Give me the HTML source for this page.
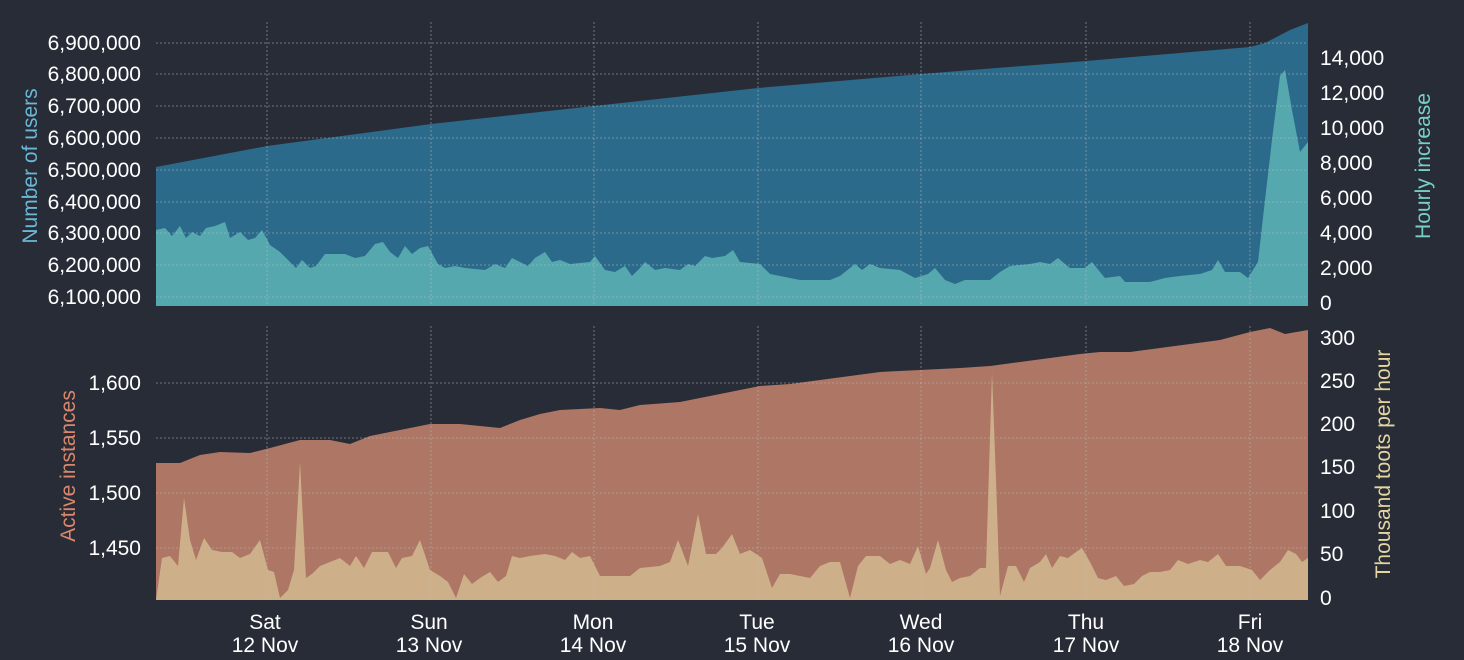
<!DOCTYPE html>
<html><head><meta charset="utf-8"><style>
html,body{margin:0;background:#282c37;overflow:hidden;}
svg{display:block}
svg text{font-family:"Liberation Sans",sans-serif;fill:#fff;font-size:21px;}
</style></head><body>
<svg width="1464" height="660" viewBox="0 0 1464 660" xmlns="http://www.w3.org/2000/svg">
<rect width="1464" height="660" fill="#282c37"/>
<polygon fill="#2b6a8b" points="156,306 156,167 267,146 431,124 594,106 758,88 921,74 1086,61 1250,47 1265,43 1290,30 1308,23 1308,306"/>
<polygon fill="#55a9ae" points="156,306 156,230 165,228 172,236 180,226 186,238 192,232 200,236 206,228 215,226 225,222 230,238 240,232 248,240 255,238 262,230 270,245 280,252 290,262 296,268 302,260 310,268 316,266 325,254 345,254 355,258 365,256 375,244 383,242 390,252 398,258 405,246 412,254 420,248 428,246 438,264 445,268 455,266 465,268 485,270 495,264 505,268 512,258 520,262 528,266 535,258 545,252 552,262 560,260 570,264 590,262 595,256 605,270 615,272 625,266 632,276 640,268 645,262 655,270 665,268 680,270 688,264 695,266 705,256 712,258 725,256 733,250 740,262 760,264 770,274 780,276 800,280 830,280 840,276 855,264 862,270 870,264 880,268 900,270 915,278 928,274 935,268 945,280 955,284 965,280 990,280 1000,272 1010,266 1030,264 1040,262 1050,264 1058,258 1065,264 1070,268 1085,268 1092,262 1100,272 1105,278 1120,276 1125,282 1150,282 1165,278 1180,276 1200,274 1212,270 1218,260 1225,272 1240,272 1248,278 1258,262 1265,200 1272,140 1280,76 1285,70 1292,110 1300,152 1308,142 1308,306"/>
<polygon fill="#ad7665" points="156,600 156,463 180,463 200,455 220,452 250,453 270,448 300,440 330,440 350,444 370,436 400,430 430,424 460,424 500,428 520,420 540,414 560,410 600,408 620,410 640,405 680,402 710,396 730,392 760,386 790,384 820,380 850,376 880,372 920,370 960,368 990,366 1020,362 1050,358 1080,354 1100,352 1130,352 1160,348 1190,344 1220,340 1250,332 1270,328 1285,334 1308,330 1308,600"/>
<polygon fill="#cdb089" points="156,600 162,558 170,556 178,566 184,498 190,540 196,560 204,538 212,550 222,552 232,552 240,558 250,554 260,540 268,570 274,572 280,598 288,590 294,570 300,462 306,578 312,574 320,566 330,562 340,558 350,566 356,556 364,568 372,552 388,552 396,568 402,558 412,556 420,540 430,570 440,576 448,582 456,598 464,574 472,584 480,578 490,572 498,582 506,576 512,556 520,558 530,556 545,554 555,556 565,560 572,552 580,558 590,556 600,576 610,576 630,576 640,568 660,566 670,562 678,540 688,566 698,514 706,554 716,554 722,548 732,534 740,554 750,550 762,558 772,588 780,574 790,574 800,576 810,578 820,566 830,562 840,562 850,598 858,566 866,556 880,556 890,564 900,560 910,564 918,546 926,574 930,568 938,540 946,570 952,582 960,578 970,576 980,568 986,568 992,372 996,480 1000,596 1008,566 1016,566 1024,582 1030,568 1040,562 1046,554 1052,568 1060,556 1068,558 1076,552 1082,548 1090,562 1098,578 1106,580 1116,576 1124,586 1134,584 1142,576 1150,572 1160,572 1170,570 1178,560 1188,564 1200,560 1208,562 1218,554 1226,566 1240,566 1252,570 1260,580 1270,570 1280,562 1288,550 1296,554 1302,562 1308,558 1308,600"/>
<g stroke="#bbbbbb" stroke-opacity="0.5" stroke-width="1" stroke-dasharray="2,2" fill="none">
<path d="M156,43H1308M156,74H1308M156,106H1308M156,138H1308M156,170H1308M156,202H1308M156,233H1308M156,265H1308M156,297H1308"/>
<path d="M156,383H1308M156,438H1308M156,493H1308M156,548H1308"/>
<path d="M267,22V306M431,22V306M594,22V306M758,22V306M921,22V306M1086,22V306M1250,22V306"/>
<path d="M267,326V600M431,326V600M594,326V600M758,326V600M921,326V600M1086,326V600M1250,326V600"/>
</g>
<g text-anchor="end">
<text x="141" y="50">6,900,000</text><text x="141" y="81">6,800,000</text><text x="141" y="113">6,700,000</text><text x="141" y="145">6,600,000</text><text x="141" y="177">6,500,000</text><text x="141" y="209">6,400,000</text><text x="141" y="240">6,300,000</text><text x="141" y="272">6,200,000</text><text x="141" y="304">6,100,000</text>
<text x="141" y="390">1,600</text><text x="141" y="445">1,550</text><text x="141" y="500">1,500</text><text x="141" y="555">1,450</text>
</g>
<g text-anchor="start">
<text x="1320" y="65">14,000</text><text x="1320" y="100">12,000</text><text x="1320" y="135">10,000</text><text x="1320" y="170">8,000</text><text x="1320" y="205">6,000</text><text x="1320" y="240">4,000</text><text x="1320" y="275">2,000</text><text x="1320" y="310">0</text>
<text x="1320" y="345">300</text><text x="1320" y="388">250</text><text x="1320" y="431">200</text><text x="1320" y="474">150</text><text x="1320" y="518">100</text><text x="1320" y="561">50</text><text x="1320" y="605">0</text>
</g>
<text transform="translate(37,166) rotate(-90)" text-anchor="middle" style="fill:#6bb7d6">Number of users</text>
<text transform="translate(1430,166) rotate(-90)" text-anchor="middle" style="fill:#78cfc7">Hourly increase</text>
<text transform="translate(75,466) rotate(-90)" text-anchor="middle" style="fill:#d9876c">Active instances</text>
<text transform="translate(1390,464) rotate(-90)" text-anchor="middle" style="fill:#e4d6a0">Thousand toots per hour</text>
<g text-anchor="middle">
<text x="265" y="629">Sat</text><text x="265" y="652">12 Nov</text>
<text x="429" y="629">Sun</text><text x="429" y="652">13 Nov</text>
<text x="593" y="629">Mon</text><text x="593" y="652">14 Nov</text>
<text x="757" y="629">Tue</text><text x="757" y="652">15 Nov</text>
<text x="921" y="629">Wed</text><text x="921" y="652">16 Nov</text>
<text x="1086" y="629">Thu</text><text x="1086" y="652">17 Nov</text>
<text x="1250" y="629">Fri</text><text x="1250" y="652">18 Nov</text>
</g>
</svg>
</body></html>
